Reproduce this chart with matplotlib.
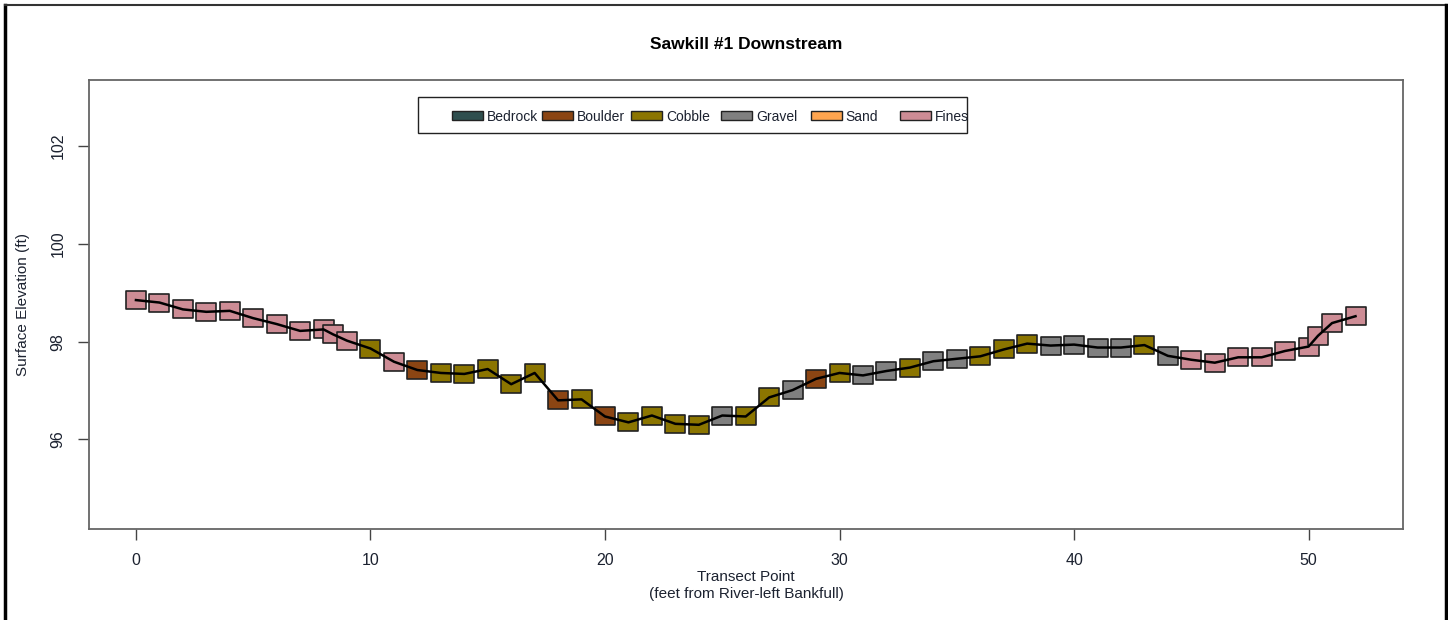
import numpy as np
import matplotlib
matplotlib.use('Agg')
import matplotlib.pyplot as plt
from matplotlib.patches import Rectangle
from matplotlib.lines import Line2D
from matplotlib.path import Path

plt.rcParams['font.family'] = ['Liberation Sans', 'DejaVu Sans']

# Cross-section survey: distance from left bank, surface elevation, substrate class
station = [0, 1, 2, 3, 4, 5, 6, 7, 8, 8.4, 9, 10, 11, 12, 13, 14, 15, 16, 17, 18,
           19, 20, 21, 22, 23, 24, 25, 26, 27, 28, 29, 30, 31, 32, 33, 34, 35, 36,
           37, 38, 39, 40, 41, 42, 43, 44, 45, 46, 47, 48, 49, 50, 50.4, 51, 52]
elevation = [98.85, 98.80, 98.66, 98.61, 98.63, 98.48, 98.36, 98.22, 98.25, 98.15,
             98.02, 97.86, 97.59, 97.42, 97.36, 97.34, 97.44, 97.13, 97.36, 96.80,
             96.82, 96.47, 96.35, 96.49, 96.32, 96.30, 96.49, 96.47, 96.86, 97.01,
             97.24, 97.36, 97.31, 97.40, 97.47, 97.60, 97.65, 97.70, 97.84, 97.96,
             97.92, 97.94, 97.88, 97.88, 97.93, 97.71, 97.63, 97.57, 97.68, 97.68,
             97.81, 97.90, 98.12, 98.38, 98.52]
substrate = ['Fines'] * 11 + ['Cobble', 'Fines', 'Boulder', 'Cobble', 'Cobble',
             'Cobble', 'Cobble', 'Cobble', 'Boulder', 'Cobble', 'Boulder', 'Cobble',
             'Cobble', 'Cobble', 'Cobble', 'Gravel', 'Cobble', 'Cobble', 'Gravel',
             'Boulder', 'Cobble', 'Gravel', 'Gravel', 'Cobble', 'Gravel', 'Gravel',
             'Cobble', 'Cobble', 'Cobble', 'Gravel', 'Gravel', 'Gravel', 'Gravel',
             'Cobble', 'Gravel'] + ['Fines'] * 9

classes = ['Bedrock', 'Boulder', 'Cobble', 'Gravel', 'Sand', 'Fines']
class_colors = ['#2F4F4F', '#8B4513', '#8B7500', '#808080', '#FFA54F', '#CD8C95']

x_ticks = [0, 10, 20, 30, 40, 50]
y_ticks = [96, 98, 100, 102]

fig = plt.figure(figsize=(14.48, 6.2), dpi=100)
ax = fig.add_axes([0.0615, 0.1468, 0.9075, 0.7242])

# slightly wide squares for the substrate markers
box = Path([(-1, -0.9), (1, -0.9), (1, 0.9), (-1, 0.9), (-1, -0.9)],
           [Path.MOVETO, Path.LINETO, Path.LINETO, Path.LINETO, Path.CLOSEPOLY])

station = np.array(station)
elevation = np.array(elevation)
substrate = np.array(substrate)
for name, col in zip(classes, class_colors):
    sel = substrate == name
    if sel.any():
        ax.plot(station[sel], elevation[sel], linestyle='none', marker=box,
                markersize=14, markerfacecolor=col, markeredgecolor='#222222',
                markeredgewidth=1.2, zorder=2)

ax.plot(station, elevation, color='black', linewidth=1.8, zorder=3)

ax.set_xlim(-2.0, 54.03)
ax.set_ylim(94.17, 103.35)
ax.set_xticks(x_ticks)
ax.set_yticks(y_ticks)
ax.set_yticklabels([str(t) for t in y_ticks], rotation=90, va='center')
ax.tick_params(axis='both', direction='out', length=8, width=1, color='#444444',
               labelsize=11.5, labelcolor='#1c2230')
ax.tick_params(axis='x', pad=9)
ax.tick_params(axis='y', pad=9)
for sp in ax.spines.values():
    sp.set_color('#666666')
    sp.set_linewidth(1.3)

ax.set_xlabel('Transect Point\n(feet from River-left Bankfull)', fontsize=11,
              color='#1c2230', labelpad=2, linespacing=1.25)
ax.set_ylabel('Surface Elevation (ft)', fontsize=11, color='#1c2230', labelpad=15)

fig.text(0.515, 0.929, 'Sawkill #1 Downstream', ha='center', va='center',
         fontsize=12.5, fontweight='bold')

# horizontal legend, evenly spaced entries
ax.add_patch(Rectangle((0.2504, 0.882), 0.4176, 0.080, transform=ax.transAxes,
                       facecolor='white', edgecolor='#222222', linewidth=1.0,
                       zorder=4))
for i, (name, col) in enumerate(zip(classes, class_colors)):
    x0 = 0.2763 + i * 0.0682
    ax.add_patch(Rectangle((x0, 0.910), 0.0236, 0.0212, transform=ax.transAxes,
                           facecolor=col, edgecolor='#222222', linewidth=1.0,
                           zorder=5))
    ax.text(x0 + 0.0266, 0.9205, name, transform=ax.transAxes, fontsize=10,
            va='center_baseline', ha='left', color='#1c2230', zorder=5)

# outer frame around the figure
fig.add_artist(Line2D([0.0035, 0.0035], [0, 0.992], color='black', linewidth=2.5))
fig.add_artist(Line2D([0.0035, 0.9985], [0.992, 0.992], color='#333333', linewidth=1.5))
fig.add_artist(Line2D([0.9985, 0.9985], [0, 0.992], color='black', linewidth=2.5))

fig.savefig('out.png', dpi=100)
